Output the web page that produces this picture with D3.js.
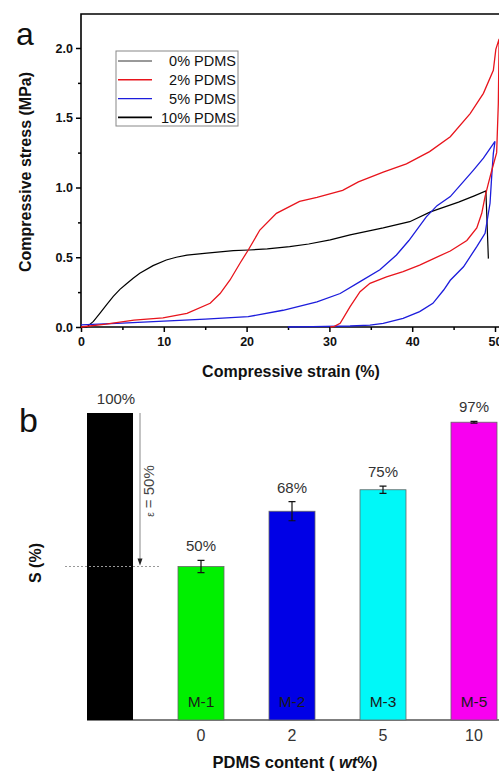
<!DOCTYPE html>
<html>
<head>
<meta charset="utf-8">
<script src="https://cdn.jsdelivr.net/npm/d3@7"></script>
<style>
  body { margin: 0; background: #fff; }
  svg { display: block; font-family: "Liberation Sans", Arial, sans-serif; }
</style>
</head>
<body>
<svg id="chart" width="499" height="771"></svg>
<script>
// ---- panel a : stress-strain loops (strain %, stress MPa)
const curve10 = [[0,0],[0.7,0],[1.5,0.04],[2.3,0.10],[3.1,0.16],[3.9,0.22],[4.7,0.27],[5.5,0.31],
  [6.3,0.35],[7.1,0.385],[8.7,0.44],[10.3,0.48],[11.5,0.50],[12.8,0.515],[15.2,0.53],[18.4,0.547],
  [20.3,0.552],[22.5,0.56],[25.2,0.576],[27.5,0.595],[30.1,0.624],[32.5,0.66],[34.5,0.685],[36.5,0.71],
  [39.7,0.755],[42.2,0.825],[45.6,0.895],[47.5,0.94],[48.9,0.975],[49.2,0.49]];
const curve2 = [[0,0],[3,0.02],[6.4,0.05],[9.9,0.065],[12.8,0.098],[15.6,0.17],[16.8,0.24],[18,0.337],
  [19.2,0.457],[20.2,0.552],[21.6,0.695],[23.6,0.815],[26.4,0.9],[28.5,0.93],[31.6,0.98],[33.5,1.04],
  [36.5,1.11],[39.3,1.17],[42.1,1.257],[44.6,1.364],[47,1.53],[48.6,1.675],[49.8,1.84],[50.1,1.99],
  [50.5,2.065],[50.4,1.6],[50.2,1.25],[49.6,1.12],[49.2,1.03],[48.8,0.935],[48.4,0.815],[47.8,0.71],
  [46.6,0.62],[44.6,0.545],[42.2,0.48],[40.9,0.444],[38.9,0.397],[36.9,0.36],[34.9,0.313],[33.7,0.253],
  [32.5,0.146],[31.3,0.026],[30.6,0.005],[30.1,0]];
const curve5 = [[0,0.015],[5,0.028],[10,0.042],[15,0.057],[20.2,0.074],[24.4,0.12],[28.5,0.18],
  [31.3,0.24],[33.7,0.325],[36.1,0.41],[38.1,0.516],[39.6,0.62],[41.7,0.79],[43,0.87],[44.6,0.935],
  [46,1.03],[47.4,1.125],[48.6,1.21],[50,1.33],[49.8,1.245],[49.6,1.08],[49.4,0.887],[48.8,0.672],
  [47.8,0.576],[46.2,0.432],[44.6,0.335],[43.8,0.265],[42.5,0.17],[40.9,0.11],[38.9,0.062],[36.5,0.026],
  [34.9,0.014],[32.5,0.007],[28,0.002],[25,0]];
const legendLabels = ["0% PDMS", "2% PDMS", "5% PDMS", "10% PDMS"];
const legendColors = ["#000", "#e8141c", "#1c1cdc", "#000"];
const legendWidths = [0.8, 1.4, 1.4, 1.6];
const strainTicks = [0, 10, 20, 30, 40, 50];
const stressTicks = [0, 0.5, 1.0, 1.5, 2.0];

// ---- panel b : shape recovery bars
const samples = ["ref", "M-1", "M-2", "M-3", "M-5"];
const pdmsLabels = ["", "0", "2", "5", "10"];
const recovery = [100, 50, 68, 75, 97];
const recoveryErr = [0, 2, 3.1, 1.2, 0.3];
const barColors = ["#000000", "#00f000", "#0000e6", "#00f8f8", "#f800f0"];

const svg = d3.select("#chart");

// ================= panel a
const x = d3.scaleLinear().domain([0, 50]).range([81, 495]);
const y = d3.scaleLinear().domain([0, 2]).range([327, 48]);
const topY = 14;

const gA = svg.append("g");

// frame (top + right beyond view)
gA.append("path")
  .attr("d", `M${x(0)},${y(0)}V${topY}H${x(51)}`)
  .attr("fill", "none").attr("stroke", "#000").attr("stroke-width", 1.6);

const xAxis = d3.axisBottom(x).tickValues(strainTicks).tickSize(5).tickSizeOuter(0);
const xMinor = d3.axisBottom(x).tickValues(d3.range(5, 50, 10)).tickSize(3).tickFormat("").tickSizeOuter(0);
const yAxis = d3.axisLeft(y).tickValues(stressTicks).tickSize(5).tickFormat(d3.format(".1f")).tickSizeOuter(0);
const yMinor = d3.axisLeft(y).tickValues([0.25, 0.75, 1.25, 1.75]).tickSize(3).tickFormat("").tickSizeOuter(0);

function styleAxis(g) {
  g.selectAll("path,line").attr("stroke", "#000").attr("stroke-width", 1.5);
  g.selectAll("text").attr("font-size", 12.5).attr("font-weight", "bold").attr("fill", "#111");
}

gA.append("g").attr("transform", `translate(0,${y(0)})`).call(xAxis).call(styleAxis)
  .call(g => g.select(".domain").attr("d", `M${x(0)},0H${x(51)}`))
  .selectAll("text").attr("dy", "0.9em");
gA.append("g").attr("transform", `translate(0,${y(0)})`).call(xMinor).call(styleAxis)
  .call(g => g.select(".domain").remove());
gA.append("g").attr("transform", `translate(${x(0)},0)`).call(yAxis).call(styleAxis)
  .call(g => g.select(".domain").remove());
gA.append("g").attr("transform", `translate(${x(0)},0)`).call(yMinor).call(styleAxis)
  .call(g => g.select(".domain").remove());

const line = d3.line().x(d => x(d[0])).y(d => y(d[1]));

gA.append("path").datum(curve10).attr("d", line)
  .attr("fill", "none").attr("stroke", "#000").attr("stroke-width", 1.2);
gA.append("path").datum(curve5).attr("d", line)
  .attr("fill", "none").attr("stroke", "#1c1cdc").attr("stroke-width", 1.3);
gA.append("path").datum(curve2).attr("d", line)
  .attr("fill", "none").attr("stroke", "#e8141c").attr("stroke-width", 1.3);

// legend
const leg = gA.append("g");
leg.append("rect").attr("x", 116).attr("y", 51).attr("width", 122).attr("height", 75)
  .attr("fill", "#fff").attr("stroke", "#888").attr("stroke-width", 1);
legendLabels.forEach((lab, i) => {
  const ly = 61 + i * 18.8;
  leg.append("line").attr("x1", 118).attr("x2", 152).attr("y1", ly).attr("y2", ly)
    .attr("stroke", legendColors[i]).attr("stroke-width", legendWidths[i]);
  leg.append("text").attr("x", 236).attr("y", ly).attr("dy", "0.36em")
    .attr("text-anchor", "end").attr("font-size", 14.5).attr("fill", "#111").text(lab);
});

gA.append("text").attr("x", 16).attr("y", 45).attr("font-size", 32).attr("fill", "#111").text("a");
gA.append("text").attr("transform", "translate(25,172) rotate(-90)")
  .attr("text-anchor", "middle").attr("dy", "0.36em")
  .attr("font-size", 16).attr("font-weight", "bold").attr("fill", "#111")
  .text("Compressive stress (MPa)");
gA.append("text").attr("x", 291).attr("y", 377)
  .attr("text-anchor", "middle").attr("font-size", 16).attr("font-weight", "bold").attr("fill", "#111")
  .text("Compressive strain (%)");

// ================= panel b
const xb = d3.scaleBand().domain(samples).range([64.5, 519.5])
  .paddingInner(0.4945).paddingOuter(0.2473);
const yb = d3.scaleLinear().domain([0, 100]).range([720, 413]);

const gB = svg.append("g");

gB.append("line").attr("x1", xb("ref")).attr("x2", 505).attr("y1", yb(0)).attr("y2", yb(0))
  .attr("stroke", "#555").attr("stroke-width", 1.5);

gB.selectAll("rect.bar").data(samples).join("rect").attr("class", "bar")
  .attr("x", d => xb(d)).attr("width", xb.bandwidth())
  .attr("y", (d, i) => yb(recovery[i])).attr("height", (d, i) => yb(0) - yb(recovery[i]))
  .attr("fill", (d, i) => barColors[i])
  .attr("stroke", (d, i) => i === 0 ? "none" : "#666").attr("stroke-width", 0.8);

// error bars
samples.forEach((s, i) => {
  if (!recoveryErr[i]) return;
  const cx = xb(s) + xb.bandwidth() / 2;
  const y0 = yb(recovery[i] - recoveryErr[i]), y1 = yb(recovery[i] + recoveryErr[i]);
  gB.append("path")
    .attr("d", `M${cx},${y0}V${y1}M${cx - 3.5},${y0}H${cx + 3.5}M${cx - 3.5},${y1}H${cx + 3.5}`)
    .attr("stroke", "#111").attr("stroke-width", 1.2).attr("fill", "none");
});

// value labels
gB.selectAll("text.val").data(samples).join("text").attr("class", "val")
  .attr("x", (d, i) => xb(d) + xb.bandwidth() / 2 + (i === 0 ? 6 : 0))
  .attr("y", (d, i) => yb(recovery[i] + recoveryErr[i]) - 9)
  .attr("text-anchor", "middle").attr("font-size", 15).attr("fill", "#333")
  .text((d, i) => recovery[i] + "%");

// sample names inside bars
gB.selectAll("text.name").data(samples.slice(1)).join("text").attr("class", "name")
  .attr("x", d => xb(d) + xb.bandwidth() / 2).attr("y", yb(0) - 13)
  .attr("text-anchor", "middle").attr("font-size", 15.5).attr("fill", "#1a1a1a")
  .text(d => d);

// x tick labels
const xbAxis = d3.axisBottom(xb).tickSize(0).tickFormat((d, i) => pdmsLabels[i]);
gB.append("g").attr("transform", `translate(0,${yb(0)})`).call(xbAxis)
  .call(g => g.select(".domain").remove())
  .selectAll("text").attr("font-size", 16).attr("fill", "#333").attr("dy", "1.1em");

// strain arrow + reference line
const ax = xb("ref") + xb.bandwidth() + 7;
gB.append("line").attr("x1", 65).attr("x2", 160).attr("y1", yb(50)).attr("y2", yb(50))
  .attr("stroke", "#999").attr("stroke-width", 1).attr("stroke-dasharray", "2,2");
gB.append("line").attr("x1", ax).attr("x2", ax).attr("y1", yb(100)).attr("y2", yb(50) - 6)
  .attr("stroke", "#888").attr("stroke-width", 1);
gB.append("path").attr("d", `M${ax - 2.5},${yb(50) - 8}L${ax + 2.5},${yb(50) - 8}L${ax},${yb(50) - 1}Z`)
  .attr("fill", "#222");
const eps = gB.append("text").attr("transform", `translate(${ax + 14},491) rotate(-90)`)
  .attr("text-anchor", "middle").attr("fill", "#444").attr("font-size", 15);
eps.append("tspan").attr("font-size", 10).text("ε");
eps.append("tspan").text(" = 50%");

gB.append("text").attr("x", 19).attr("y", 432).attr("font-size", 34).attr("fill", "#111").text("b");
gB.append("text").attr("transform", "translate(35,563) rotate(-90)")
  .attr("text-anchor", "middle").attr("dy", "0.36em")
  .attr("font-size", 16).attr("font-weight", "bold").attr("fill", "#111").text("S (%)");
const xl = gB.append("text").attr("x", 295).attr("y", 768).attr("text-anchor", "middle")
  .attr("font-size", 16.5).attr("font-weight", "bold").attr("fill", "#111");
xl.append("tspan").text("PDMS content ( ");
xl.append("tspan").attr("font-style", "italic").text("wt");
xl.append("tspan").text("%)");
</script>
</body>
</html>
